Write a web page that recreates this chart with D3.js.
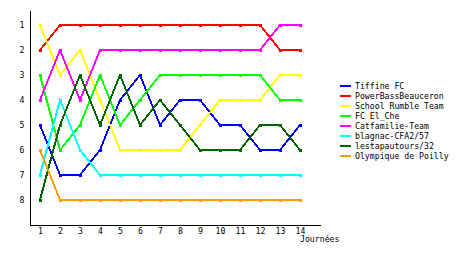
<!DOCTYPE html>
<html>
<head>
<meta charset="utf-8">
<script src="https://cdn.jsdelivr.net/npm/d3@7"></script>
<style>
  body { margin: 0; background: #fff; }
  text { font-family: "DejaVu Sans Mono", monospace; font-size: 8.2px; fill: #000; }
</style>
</head>
<body>
<svg id="chart" width="460" height="255"></svg>
<script>
// days and team names
const days = [1, 2, 3, 4, 5, 6, 7, 8, 9, 10, 11, 12, 13, 14];
const rankTicks = [1, 2, 3, 4, 5, 6, 7, 8];
const teams = ["Tiffine FC", "PowerBassBeauceron", "School Rumble Team", "FC El_Che",
               "Catfamilie-Team", "blagnac-CFA2/57", "lestapautours/32", "Olympique de Poilly"];
const colors = ["#0000ff", "#ff0000", "#ffff00", "#00ff00", "#ff00ff", "#00ffff", "#006400", "#ff9900"];

// rank per day, one array per team
const tiffine      = [5, 7, 7, 6, 4, 3, 5, 4, 4, 5, 5, 6, 6, 5];
const powerBass    = [2, 1, 1, 1, 1, 1, 1, 1, 1, 1, 1, 1, 2, 2];
const schoolRumble = [1, 3, 2, 4, 6, 6, 6, 6, 5, 4, 4, 4, 3, 3];
const fcElChe      = [3, 6, 5, 3, 5, 4, 3, 3, 3, 3, 3, 3, 4, 4];
const catfamilie   = [4, 2, 4, 2, 2, 2, 2, 2, 2, 2, 2, 2, 1, 1];
const blagnac      = [7, 4, 6, 7, 7, 7, 7, 7, 7, 7, 7, 7, 7, 7];
const lestapautours= [8, 5, 3, 5, 3, 5, 4, 5, 6, 6, 6, 5, 5, 6];
const olympique    = [6, 8, 8, 8, 8, 8, 8, 8, 8, 8, 8, 8, 8, 8];
const series = [tiffine, powerBass, schoolRumble, fcElChe, catfamilie, blagnac, lestapautours, olympique];

const svg = d3.select("#chart");

const x = d3.scaleLinear().domain([0.5, 15]).range([30, 320]);
const y = d3.scaleLinear().domain([0.4, 9]).range([10, 225]);

// axes
svg.append("g")
    .attr("transform", "translate(0,225)")
    .call(d3.axisBottom(x).tickValues(days).tickSize(0).tickPadding(3).tickSizeOuter(0))
    .call(g => g.select(".domain").attr("stroke", "#000").attr("shape-rendering", "crispEdges"))
    .call(g => g.selectAll("text").attr("font-family", null).attr("font-size", null));

svg.append("g")
    .attr("transform", "translate(30,0)")
    .call(d3.axisLeft(y).tickValues(rankTicks).tickSize(0).tickPadding(6).tickSizeOuter(0))
    .call(g => g.select(".domain").attr("stroke", "#000").attr("shape-rendering", "crispEdges"))
    .call(g => g.selectAll("text").attr("font-family", null).attr("font-size", null)
        .attr("text-anchor", "middle").attr("dx", "-2"));

svg.append("text")
    .attr("x", 300)
    .attr("y", 242)
    .text("Journées");

// lines
const line = d3.line()
    .x((d, i) => x(days[i]))
    .y(d => y(d));

series.forEach((vals, k) => {
    svg.append("path")
        .datum(vals)
        .attr("fill", "none")
        .attr("stroke", colors[k])
        .attr("stroke-width", 2)
        .attr("shape-rendering", "crispEdges")
        .attr("d", line);

    svg.selectAll(null)
        .data(vals)
        .enter().append("rect")
        .attr("x", (d, i) => x(days[i]) - 1.5)
        .attr("y", d => y(d) - 1.5)
        .attr("width", 3)
        .attr("height", 3)
        .attr("fill", colors[k])
        .attr("shape-rendering", "crispEdges");
});

// legend
const legend = svg.append("g").attr("transform", "translate(340,86)");
teams.forEach((name, k) => {
    legend.append("rect")
        .attr("x", 0)
        .attr("y", k * 10 - 1)
        .attr("width", 11)
        .attr("height", 2)
        .attr("fill", colors[k]);
    legend.append("text")
        .attr("x", 15)
        .attr("y", k * 10 + 3)
        .text(name);
});
</script>
</body>
</html>
